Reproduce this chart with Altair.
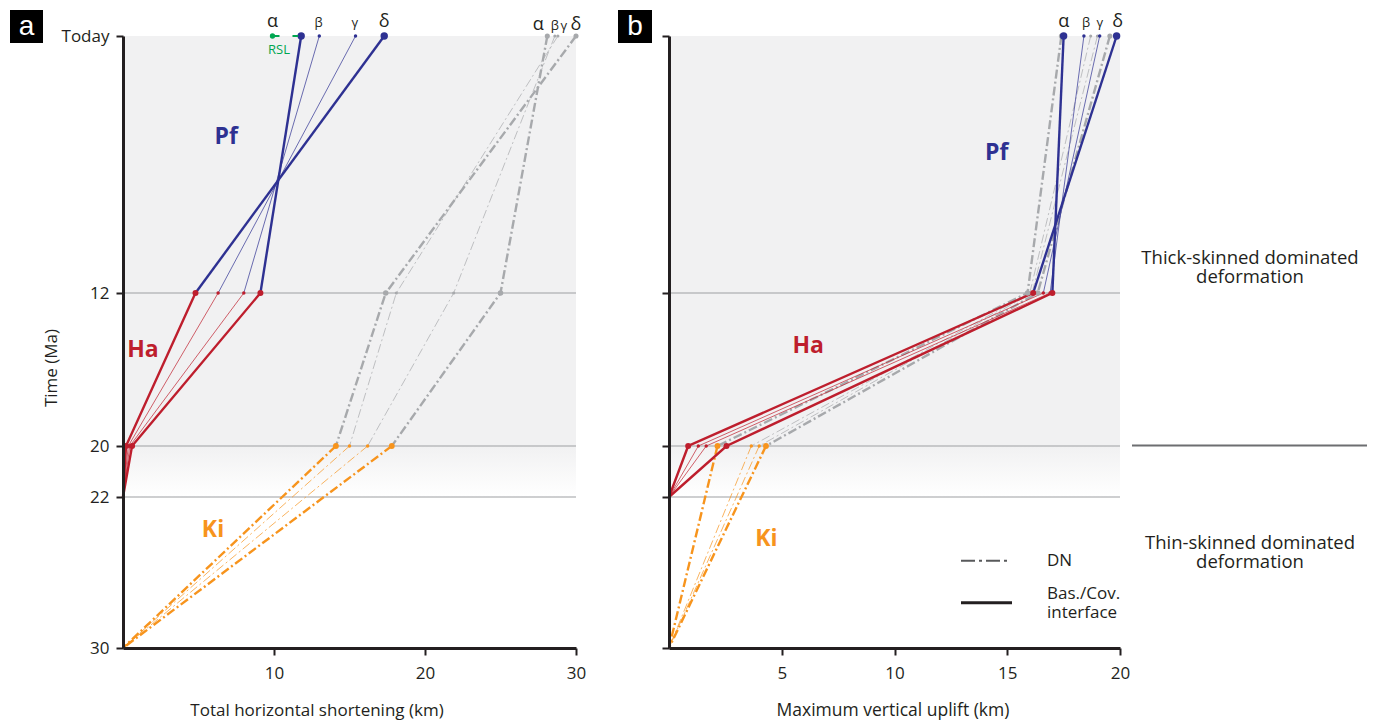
import altair as alt
import pandas as pd

FONT = "Open Sans"
INK = "#231f20"
BLUE = "#2e3192"
RED = "#be1e2d"
ORANGE = "#f7941d"
GRAY = "#a7a9ac"
GREEN = "#00a651"
BG = "#f1f1f2"

# ---------------- data ----------------
SCEN = ["α", "β", "γ", "δ"]
WEIGHT = ["thick", "thin", "thin", "thick"]
TIME_TICKS = [0, 12, 20, 22, 30]
TIME_RULES = [12, 20, 22]

# panel a : total horizontal shortening (km)
A_IF_T0 = [11.8, 13.0, 15.4, 17.3]
A_IF_T12 = [9.1, 8.0, 6.3, 4.8]
A_IF_T20 = [0.6, 0.45, 0.35, 0.2]
A_IF_T22 = [0.0, 0.0, 0.0, 0.0]
A_DN_T0 = [28.1, 28.6, 28.8, 30.0]
A_DN_T12 = [25.0, 21.9, 18.1, 17.4]
A_DN_T20 = [17.8, 16.2, 15.0, 14.1]
A_DN_T30 = [0.0, 0.0, 0.0, 0.0]
A_RSL = [9.9, 11.6]
A_LABEL_IF_X = [9.9, 12.95, 15.35, 17.3]
A_LABEL_DN_X = [27.5, 28.6, 29.2, 30.0]

# panel b : maximum vertical uplift (km)
B_IF_T0 = [17.5, 18.4, 19.1, 19.85]
B_IF_T12 = [17.0, 16.9, 16.6, 16.15]
B_IF_T20 = [2.55, 1.65, 1.3, 0.85]
B_IF_T22 = [0.0, 0.0, 0.0, 0.0]
B_DN_T0 = [17.4, 18.7, 19.0, 19.55]
B_DN_T12 = [15.9, 16.0, 16.1, 16.35]
B_DN_T20 = [2.15, 3.65, 4.0, 4.3]
B_DN_T30 = [0.0, 0.0, 0.0, 0.0]
B_LABEL_X = [17.5, 18.5, 19.1, 19.9]

# ---------------- layout constants ----------------
W_A, W_B, H = 453, 451, 612
Y_RANGE = [0, 257, 410, 461, 612]
SEG_COLOR = {"Pf": BLUE, "Ha": RED, "DN": GRAY, "Ki": ORANGE}


def build_lines(iv, dv, kind):
    rows = []
    for i, s in enumerate(SCEN):
        w = 2.4 if WEIGHT[i] == "thick" else 0.7
        if kind == "IF":
            segs = [("Pf", [(0, iv[0][i]), (12, iv[1][i])]),
                    ("Ha", [(12, iv[1][i]), (20, iv[2][i]), (22, iv[3][i])])]
        else:
            segs = [("DN", [(0, dv[0][i]), (12, dv[1][i]), (20, dv[2][i])]),
                    ("Ki", [(20, dv[2][i]), (30, dv[3][i])])]
        for seg, pts in segs:
            for k, (t, v) in enumerate(pts):
                rows.append({"gid": f"{kind}-{s}-{seg}", "seg": seg, "t": t, "v": v,
                             "ord": k, "col": SEG_COLOR[seg], "w": w})
    return pd.DataFrame(rows)


def build_points(iv, dv):
    rows = []
    for i, s in enumerate(SCEN):
        big = WEIGHT[i] == "thick"
        rows.append({"t": 0, "v": dv[0][i], "col": GRAY, "sz": 26 if big else 10})
        rows.append({"t": 12, "v": dv[1][i], "col": GRAY, "sz": 30 if big else 10})
        rows.append({"t": 20, "v": dv[2][i], "col": ORANGE, "sz": 34 if big else 12})
        rows.append({"t": 0, "v": iv[0][i], "col": BLUE, "sz": 55 if big else 12})
        rows.append({"t": 12, "v": iv[1][i], "col": RED, "sz": 36 if big else 12})
        rows.append({"t": 20, "v": iv[2][i], "col": RED, "sz": 36 if big else 12})
    return pd.DataFrame(rows)


def build_labels(xs, col):
    return pd.DataFrame({"lx": xs, "t": [0] * 4, "txt": SCEN, "col": [col] * 4,
                         "sz": [18 if w == "thick" else 13 for w in WEIGHT]})


ONE = alt.Data(values=[{"k": 1}])


def txt(text, px, py, size=16, color=INK, align="center", baseline="middle",
        weight="normal", angle=0, font=FONT, line_height=None):
    kw = dict(text=text, align=align, baseline=baseline, fontSize=size, color=color,
              fontWeight=weight, angle=angle, font=font)
    if line_height:
        kw["lineHeight"] = line_height
    return alt.Chart(ONE).mark_text(**kw).encode(x=alt.value(px), y=alt.value(py))


def box(x1, y1, x2, y2, color="#000000", opacity=1.0):
    return alt.Chart(ONE).mark_rect(color=color, opacity=opacity).encode(
        x=alt.value(x1), x2=alt.value(x2), y=alt.value(y1), y2=alt.value(y2))


def hrule(x1, x2, y, color, width, dash=None):
    kw = dict(color=color, strokeWidth=width)
    if dash:
        kw["strokeDash"] = dash
    return alt.Chart(ONE).mark_rule(**kw).encode(
        x=alt.value(x1), x2=alt.value(x2), y=alt.value(y))


def panel(width, xmax, xticks, iv, dv, show_ylabels, pf, ha, ki, extra_labels):
    xscale = alt.Scale(domain=[0, xmax], nice=False, zero=False)
    yscale = alt.Scale(domain=TIME_TICKS, range=Y_RANGE, nice=False, zero=False)
    xaxis = alt.Axis(values=xticks, title=None, grid=False, domainColor=INK,
                     domainWidth=3, tickColor=INK, tickWidth=2, tickSize=7,
                     labelFontSize=17, labelFont=FONT, labelColor=INK,
                     labelPadding=10, labelFlush=False, zindex=2)
    yaxis = alt.Axis(values=TIME_TICKS, title=None, grid=False, domainColor=INK,
                     domainWidth=3, tickColor=INK, tickWidth=2, tickSize=7,
                     labels=show_ylabels, labelFontSize=17, labelFont=FONT,
                     labelColor=INK, labelPadding=7, labelFlush=False, zindex=2,
                     labelExpr="datum.value == 0 ? 'Today' : datum.label")

    def X(field=None, datum=None):
        if datum is not None:
            return alt.X(datum=datum, scale=xscale, axis=xaxis)
        return alt.X(field, type="quantitative", scale=xscale, axis=xaxis)

    def Y(field=None, datum=None):
        if datum is not None:
            return alt.Y(datum=datum, scale=yscale, axis=yaxis)
        return alt.Y(field, type="quantitative", scale=yscale, axis=yaxis)

    bg = alt.Chart(ONE).mark_rect(color=BG).encode(
        x=alt.value(0), x2=alt.value(width), y=Y(datum=0), y2=alt.Y2(datum=20))
    grad = alt.Chart(ONE).mark_rect(color=alt.LinearGradient(
        gradient="linear",
        stops=[alt.GradientStop(color=BG, offset=0),
               alt.GradientStop(color="#ffffff", offset=1)],
        x1=0, x2=0, y1=0, y2=1)).encode(
        x=alt.value(0), x2=alt.value(width), y=Y(datum=20), y2=alt.Y2(datum=22))
    rules = alt.Chart(pd.DataFrame({"t": TIME_RULES})).mark_rule(
        color="#9d9fa2", strokeWidth=1).encode(
        y=Y("t"), x=alt.value(0), x2=alt.value(width))

    dn = build_lines(iv, dv, "DN")
    inter = build_lines(iv, dv, "IF")
    dn_layer = alt.Chart(dn).mark_line(strokeDash=[9, 3, 2, 3]).encode(
        x=X("v"), y=Y("t"), detail="gid:N", order="ord:Q",
        color=alt.Color("col:N", scale=None),
        strokeWidth=alt.StrokeWidth("w:Q", scale=None))
    if_layer = alt.Chart(inter).mark_line().encode(
        x=X("v"), y=Y("t"), detail="gid:N", order="ord:Q",
        color=alt.Color("col:N", scale=None),
        strokeWidth=alt.StrokeWidth("w:Q", scale=None))
    pts = alt.Chart(build_points(iv, dv)).mark_circle(opacity=1).encode(
        x=X("v"), y=Y("t"), color=alt.Color("col:N", scale=None),
        size=alt.Size("sz:Q", scale=None))

    def unit_label(text, pos, color):
        return alt.Chart(ONE).mark_text(
            text=text, fontSize=23, fontWeight="bold", color=color, font=FONT,
            align="center", baseline="middle").encode(
            x=X(datum=pos[0]), y=Y(datum=pos[1]))

    layers = [bg, grad, rules, dn_layer, if_layer, pts,
              unit_label("Pf", pf, BLUE), unit_label("Ha", ha, RED),
              unit_label("Ki", ki, ORANGE)]

    for xs, dy in extra_labels:
        layers.append(alt.Chart(build_labels(xs, INK)).mark_text(
            baseline="alphabetic", dy=dy, font=FONT).encode(
            x=X("lx"), y=Y("t"), text="txt:N",
            size=alt.Size("sz:Q", scale=None), color=alt.Color("col:N", scale=None)))
    return layers, X, Y


# ---------------- panel a ----------------
la, XA, YA = panel(W_A, 30, [10, 20, 30],
                   [A_IF_T0, A_IF_T12, A_IF_T20, A_IF_T22],
                   [A_DN_T0, A_DN_T12, A_DN_T20, A_DN_T30],
                   True, (6.84, 4.72), (1.32, 15.0), (5.96, 23.76),
                   [(A_LABEL_IF_X, -9), (A_LABEL_DN_X, -6)])

rsl = pd.DataFrame({"v": [A_RSL[0]], "v2": [A_RSL[1]], "t": [0]})
rsl_line = alt.Chart(rsl).mark_rule(color=GREEN, strokeWidth=2, strokeDash=[7, 13]).encode(
    x=XA("v"), x2="v2:Q", y=YA("t"))
rsl_pt = alt.Chart(rsl).mark_circle(color=GREEN, size=28, opacity=1).encode(
    x=XA("v"), y=YA("t"))

panel_a = alt.layer(
    *la, rsl_line, rsl_pt,
    txt("RSL", 156, 14, size=13, color=GREEN),
    txt("Time (Ma)", -71, 332, size=17, angle=270),
    txt("Total horizontal shortening (km)", 194, 675, size=17),
    box(-113, -26, -80, 7),
    txt("a", -96.5, -1, size=28, color="#ffffff", baseline="alphabetic",
        font="Liberation Sans"),
    box(-115, -28, -114, -27, opacity=0),
).properties(width=W_A, height=H)

# ---------------- panel b ----------------
lb, XB, YB = panel(W_B, 20, [5, 10, 15, 20],
                   [B_IF_T0, B_IF_T12, B_IF_T20, B_IF_T22],
                   [B_DN_T0, B_DN_T12, B_DN_T20, B_DN_T30],
                   False, (14.53, 5.47), (6.17, 14.77), (4.32, 24.2),
                   [(B_LABEL_X, -9)])

panel_b = alt.layer(
    *lb,
    txt("Maximum vertical uplift (km)", 224, 675, size=17.5),
    box(-51, -26, -17, 7),
    txt("b", -34, -1, size=28, color="#ffffff", baseline="alphabetic",
        font="Liberation Sans"),
    hrule(292, 340, 524.7, "#58595b", 2, [14, 4, 3, 4]),
    hrule(292, 343, 566.7, INK, 3),
    txt("DN", 378, 524.7, size=17, align="left"),
    txt(["Bas./Cov.", "interface"], 378, 558, size=17, align="left",
        line_height=19),
    txt(["Thick-skinned dominated", "deformation"], 581, 222, size=18.5,
        line_height=18.5),
    hrule(463, 698, 409.5, "#6d6e71", 2),
    txt(["Thin-skinned dominated", "deformation"], 581, 507, size=18.5,
        line_height=18.5),
).properties(width=W_B, height=H)

chart = alt.hconcat(panel_a, panel_b, spacing=93, bounds="flush").properties(
    padding={"left": 0, "top": 0, "right": 0, "bottom": 4}
).configure_view(stroke=None)

chart.save("out.html", embed_options={"renderer": "svg", "actions": False})
